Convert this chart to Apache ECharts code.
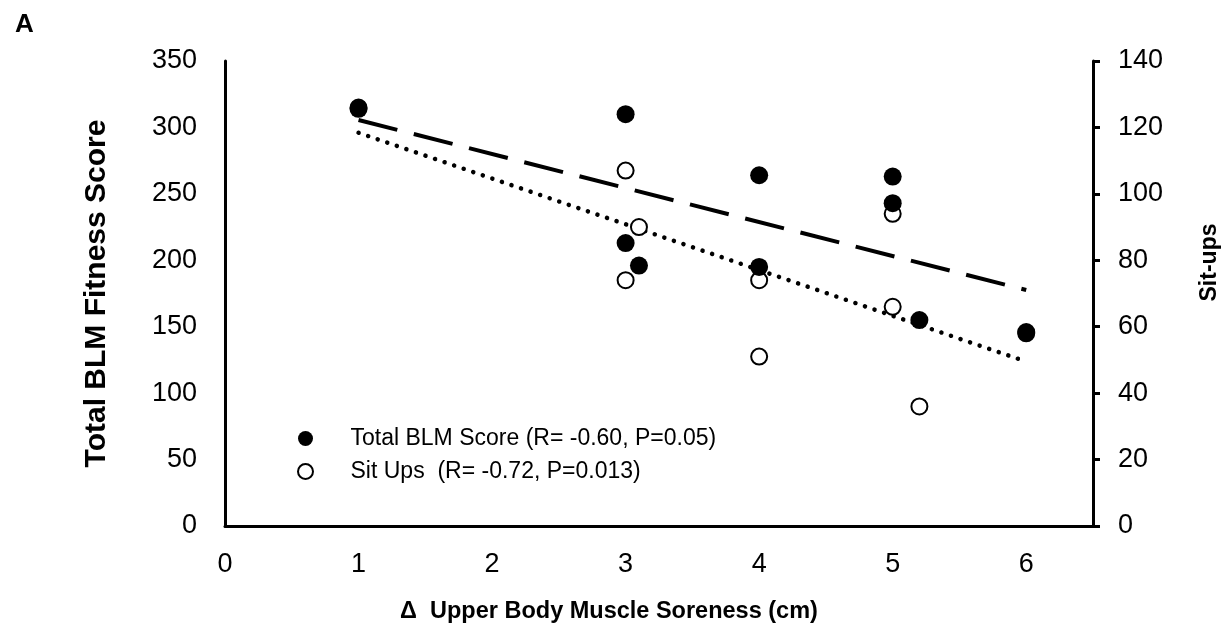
<!DOCTYPE html>
<html>
<head>
<meta charset="utf-8">
<script src="https://cdn.jsdelivr.net/npm/echarts@6/dist/echarts.min.js"></script>
<style>html,body{margin:0;padding:0;background:#fff}#c{width:1229px;height:632px}</style>
</head>
<body>
<div id="c"></div>
<script>
// Data
const soreness = [1, 3, 3, 3.1, 4, 4, 5, 5, 5.2, 6];
const blmScore = [314, 310, 213, 196, 264, 195, 263, 243, 155, 146];
const sitUpsX = [1, 3, 3, 3.1, 4, 4, 5, 5, 5.2, 6];
const sitUps = [126, 107, 74, 90, 74, 51, 94, 66, 36, 58];
// Trend line end points
const blmTrendX = [1, 6];
const blmTrendY = [305.6, 177.6];
const sitTrendX = [1, 6];
const sitTrendY = [118.4, 49.5];
const seriesNames = ['Total BLM Score (R= -0.60, P=0.05)', 'Sit Ups  (R= -0.72, P=0.013)'];

const zip = (xs, ys) => xs.map((x, i) => [x, ys[i]]);
const FONT = '"Liberation Sans", Arial, sans-serif';

const chart = echarts.init(document.getElementById('c'), null, {renderer: 'canvas'});
chart.setOption({
  animation: false,
  backgroundColor: '#fff',
  title: {
    text: 'A', left: 10, top: 7,
    textStyle: {fontFamily: FONT, fontWeight: 'bold', fontSize: 26, color: '#000'}
  },
  grid: {left: 225, right: 134, top: 61, bottom: 106},
  legend: {
    orient: 'vertical', left: 292, top: 422,
    itemWidth: 50, itemHeight: 15, itemGap: 10,
    data: [seriesNames[0], seriesNames[1]],
    textStyle: {fontFamily: FONT, fontSize: 23, color: '#000', lineHeight: 23, padding: [0, 0, 0, 15]}
  },
  xAxis: {
    type: 'value', min: 0, max: 6.5, interval: 1,
    name: 'Δ  Upper Body Muscle Soreness (cm)', nameLocation: 'middle', nameGap: 74,
    nameTextStyle: {fontFamily: FONT, fontWeight: 'bold', fontSize: 23.5, color: '#000', padding: [0, 100, 0, 0]},
    axisLine: {onZero: false, lineStyle: {color: '#000', width: 3}},
    axisTick: {show: false},
    splitLine: {show: false},
    axisLabel: {showMaxLabel: false, margin: 25, fontFamily: FONT, fontSize: 27, color: '#000'}
  },
  yAxis: [{
    type: 'value', min: 0, max: 350, interval: 50, position: 'left',
    name: 'Total BLM Fitness Score', nameLocation: 'middle', nameGap: 113, nameRotate: 90,
    nameTextStyle: {fontFamily: FONT, fontWeight: 'bold', fontSize: 30, color: '#000'},
    axisLine: {show: true, onZero: false, lineStyle: {color: '#000', width: 3}},
    axisTick: {show: false},
    splitLine: {show: false},
    axisLabel: {margin: 28, fontFamily: FONT, fontSize: 27, color: '#000'}
  }, {
    type: 'value', min: 0, max: 140, interval: 20, position: 'right',
    name: 'Sit-ups', nameLocation: 'middle', nameGap: 105, nameRotate: 90,
    nameTextStyle: {fontFamily: FONT, fontWeight: 'bold', fontSize: 23, color: '#000', padding: [0, 0, 0, 62]},
    axisLine: {show: true, onZero: false, lineStyle: {color: '#000', width: 3}},
    axisTick: {show: true, inside: false, length: 7, lineStyle: {color: '#000', width: 3}},
    splitLine: {show: false},
    axisLabel: {margin: 25, fontFamily: FONT, fontSize: 27, color: '#000'}
  }],
  series: [{
    name: seriesNames[1], type: 'scatter', yAxisIndex: 1, z: 3,
    symbol: 'circle', symbolSize: 16,
    itemStyle: {color: '#fff', borderColor: '#000', borderWidth: 2, opacity: 1},
    data: zip(sitUpsX, sitUps)
  }, {
    name: seriesNames[0], type: 'scatter', yAxisIndex: 0, z: 4,
    symbol: 'circle', symbolSize: 18,
    itemStyle: {color: '#000', opacity: 1},
    data: zip(soreness, blmScore)
  }, {
    name: 'blmTrend', type: 'line', yAxisIndex: 0, z: 2,
    showSymbol: false, symbol: 'none', silent: true,
    lineStyle: {color: '#000', width: 4, type: [40, 17]},
    data: zip(blmTrendX, blmTrendY)
  }, {
    name: 'sitTrend', type: 'line', yAxisIndex: 1, z: 2,
    showSymbol: false, symbol: 'none', silent: true,
    lineStyle: {color: '#000', width: 4.5, type: [0.1, 10], cap: 'round'},
    data: zip(sitTrendX, sitTrendY)
  }]
});
</script>
</body>
</html>
